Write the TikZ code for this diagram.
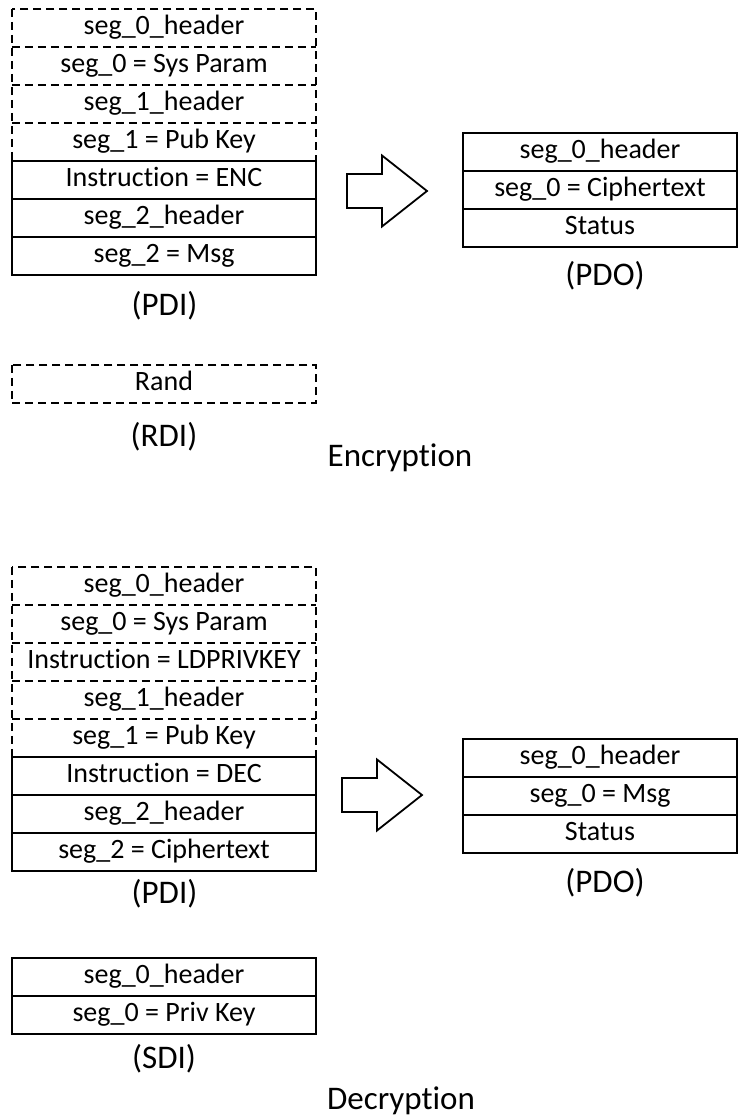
\documentclass[tikz,border=0pt]{standalone}
\usepackage{fontspec}
\setmainfont{Carlito}[Ligatures=NoCommon]
\begin{document}
\begin{tikzpicture}[x=1pt,y=-1pt,
  cell/.style={minimum width=304pt, minimum height=38pt, inner sep=0pt,
               text height=18pt, text depth=5pt, font=\fontsize{28}{33}\selectfont},
  ocell/.style={cell, minimum width=274pt},
  frame/.style={line width=1.8pt, draw=black},
  dframe/.style={frame, dash pattern=on 8pt off 5pt},
  caption/.style={anchor=base, inner sep=0pt, font=\fontsize{33}{39}\selectfont}
]
\useasboundingbox (0,0) rectangle (738,1118);

% ---------------- Encryption ----------------
\node[cell] (ep1) at (164,28)  {seg\_0\_header};
\node[cell] (ep2) at (164,66)  {seg\_0 = Sys Param};
\node[cell] (ep3) at (164,104) {seg\_1\_header};
\node[cell] (ep4) at (164,142) {seg\_1 = Pub Key};
\node[cell] (ep5) at (164,180) {Instruction = ENC};
\node[cell] (ep6) at (164,218) {seg\_2\_header};
\node[cell] (ep7) at (164,256) {seg\_2 = Msg};
\draw[dframe] (ep1.north west) rectangle (ep4.south east);
\foreach \c in {ep1,ep2,ep3} \draw[dframe] (\c.south west) -- (\c.south east);
\draw[frame] (ep5.north west) rectangle (ep7.south east);
\foreach \c in {ep5,ep6} \draw[frame] (\c.south west) -- (\c.south east);
\node[caption] (pdi1) at (164.5,315) {(PDI)};

\coordinate (ea) at (347,191);
\draw[frame] (ea) ++(0,-17) -- ++(35,0) -- ++(0,-18.5) -- ++(45,35.5)
  -- ++(-45,35.5) -- ++(0,-18.5) -- ++(-35,0) -- cycle;

\node[ocell] (eo1) at (600,152) {seg\_0\_header};
\node[ocell] (eo2) at (600,190) {seg\_0 = Ciphertext};
\node[ocell] (eo3) at (600,228) {Status};
\draw[frame] (eo1.north west) rectangle (eo3.south east);
\foreach \c in {eo1,eo2} \draw[frame] (\c.south west) -- (\c.south east);
\node[caption] (pdo1) at (605,285) {(PDO)};

\node[cell] (er1) at (164,384) {Rand};
\draw[dframe] (er1.north west) rectangle (er1.south east);
\node[caption] (rdi) at (164,446) {(RDI)};

\node[caption] (enc) at (400,466) {Encryption};

% ---------------- Decryption ----------------
\node[cell] (dp1) at (164,586) {seg\_0\_header};
\node[cell] (dp2) at (164,624) {seg\_0 = Sys Param};
\node[cell] (dp3) at (164,662) {Instruction = LDPRIVKEY};
\node[cell] (dp4) at (164,700) {seg\_1\_header};
\node[cell] (dp5) at (164,738) {seg\_1 = Pub Key};
\node[cell] (dp6) at (164,776) {Instruction = DEC};
\node[cell] (dp7) at (164,814) {seg\_2\_header};
\node[cell] (dp8) at (164,852) {seg\_2 = Ciphertext};
\draw[dframe] (dp1.north west) rectangle (dp5.south east);
\foreach \c in {dp1,dp2,dp3,dp4} \draw[dframe] (\c.south west) -- (\c.south east);
\draw[frame] (dp6.north west) rectangle (dp8.south east);
\foreach \c in {dp6,dp7} \draw[frame] (\c.south west) -- (\c.south east);
\node[caption] (pdi2) at (164.5,903) {(PDI)};

\coordinate (da) at (342,795);
\draw[frame] (da) ++(0,-17) -- ++(35,0) -- ++(0,-18.5) -- ++(45,35.5)
  -- ++(-45,35.5) -- ++(0,-18.5) -- ++(-35,0) -- cycle;

\node[ocell] (do1) at (600,758) {seg\_0\_header};
\node[ocell] (do2) at (600,796) {seg\_0 = Msg};
\node[ocell] (do3) at (600,834) {Status};
\draw[frame] (do1.north west) rectangle (do3.south east);
\foreach \c in {do1,do2} \draw[frame] (\c.south west) -- (\c.south east);
\node[caption] (pdo2) at (605,892) {(PDO)};

\node[cell] (ds1) at (164,977)  {seg\_0\_header};
\node[cell] (ds2) at (164,1015) {seg\_0 = Priv Key};
\draw[frame] (ds1.north west) rectangle (ds2.south east);
\draw[frame] (ds1.south west) -- (ds1.south east);
\node[caption] (sdi) at (164,1068) {(SDI)};

\node[caption] (dec) at (401,1109) {Decryption};
\end{tikzpicture}
\end{document}
